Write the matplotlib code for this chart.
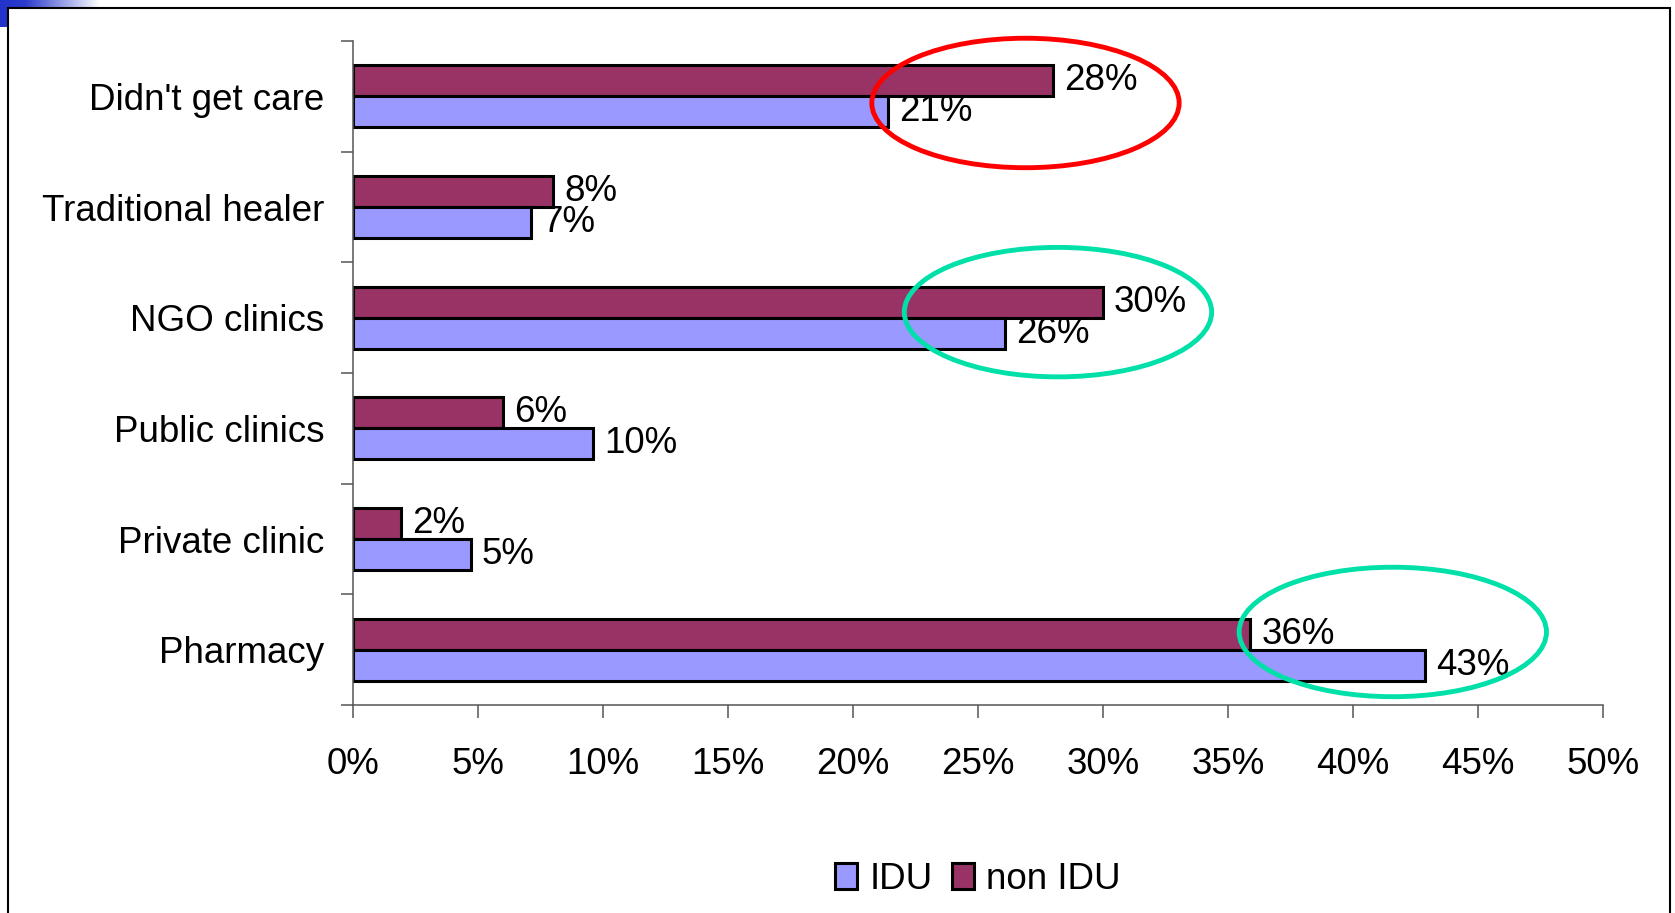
import matplotlib.pyplot as plt
import numpy as np
from matplotlib.colors import LinearSegmentedColormap
from matplotlib.patches import Ellipse, Rectangle

# data (top to bottom)
categories = ["Didn't get care", 'Traditional healer', 'NGO clinics',
              'Public clinics', 'Private clinic', 'Pharmacy']
idu = [21.4, 7.1, 26.1, 9.6, 4.7, 42.9]
non_idu = [28.0, 8.0, 30.0, 6.0, 1.9, 35.9]
xticks = [0, 5, 10, 15, 20, 25, 30, 35, 40, 45, 50]

# circled answers on the slide
highlight_cats = ["Didn't get care", 'NGO clinics', 'Pharmacy']
highlight_colors = ['#ff0000', '#00e0a8', '#00e0a8']
highlight_x = [26.9, 28.2, 41.6]
highlight_dy = [0.06, -0.05, -0.16]

plt.rcParams['font.family'] = ['Liberation Sans', 'DejaVu Sans']
fs = 26.5

W, H = 1675, 913
fig = plt.figure(figsize=(W / 100, H / 100), dpi=100)

# blue corner of the slide template + frame
gax = fig.add_axes([0, 1 - 27 / H, 100 / W, 27 / H], zorder=-3)
cmap = LinearSegmentedColormap.from_list('corner', [(0, '#2233cc'), (0.25, '#2a3bcc'), (1, '#ffffff')])
gax.imshow(np.linspace(0, 1, 256).reshape(1, -1), aspect='auto', cmap=cmap)
gax.axis('off')
frame = Rectangle((8 / W, -0.02), (1670 - 8) / W, 1 - 8 / H + 0.02, transform=fig.transFigure,
                  facecolor='white', edgecolor='black', lw=1.5, zorder=-2)
fig.add_artist(frame)

ax = fig.add_axes([353.3 / W, (H - 705) / H, (1602.7 - 353.3) / W, (705 - 41) / H])
ax.patch.set_alpha(0)

h = 0.28
y = np.arange(len(categories))
b_non = ax.barh(y - h / 2, non_idu, h, color='#993366', edgecolor='black', lw=2.2, label='non IDU')
b_idu = ax.barh(y + h / 2, idu, h, color='#9999ff', edgecolor='black', lw=2.2, label='IDU')
ax.bar_label(b_non, labels=[f'{v:.0f}%' for v in non_idu], padding=8, fontsize=fs)
ax.bar_label(b_idu, labels=[f'{v:.0f}%' for v in idu], padding=8, fontsize=fs)

for cat, col, cx, dy in zip(highlight_cats, highlight_colors, highlight_x, highlight_dy):
    i = categories.index(cat)
    ax.add_patch(Ellipse((cx, i + dy), 12.3, 1.17, fill=False, edgecolor=col, lw=3.5, zorder=5, clip_on=False))

ax.set_xlim(0, 50)
ax.set_ylim(len(categories) - 0.5, -0.5)
for s in ['top', 'right']:
    ax.spines[s].set_visible(False)
for s in ['left', 'bottom']:
    ax.spines[s].set_color('#555555')
    ax.spines[s].set_linewidth(1.1)

ax.set_yticks(y, categories)
ax.set_yticks(np.arange(-0.5, len(categories), 1), minor=True)
ax.tick_params(axis='y', which='major', length=0, pad=21, labelsize=fs)
ax.tick_params(axis='y', which='minor', length=8.5, width=1.1, color='#555555')
ax.set_xticks(xticks, [f'{t}%' for t in xticks])
ax.tick_params(axis='x', length=9.5, width=1.1, color='#555555', pad=21, labelsize=fs)

fig.legend(handles=[b_idu, b_non], labels=['IDU', 'non IDU'], loc='center',
           bbox_to_anchor=(978 / W, 0.037), ncol=2, frameon=False, fontsize=fs,
           handlelength=0.6, handleheight=0.7, handletextpad=0.35, columnspacing=0.5)

fig.savefig('out.png', dpi=100)
